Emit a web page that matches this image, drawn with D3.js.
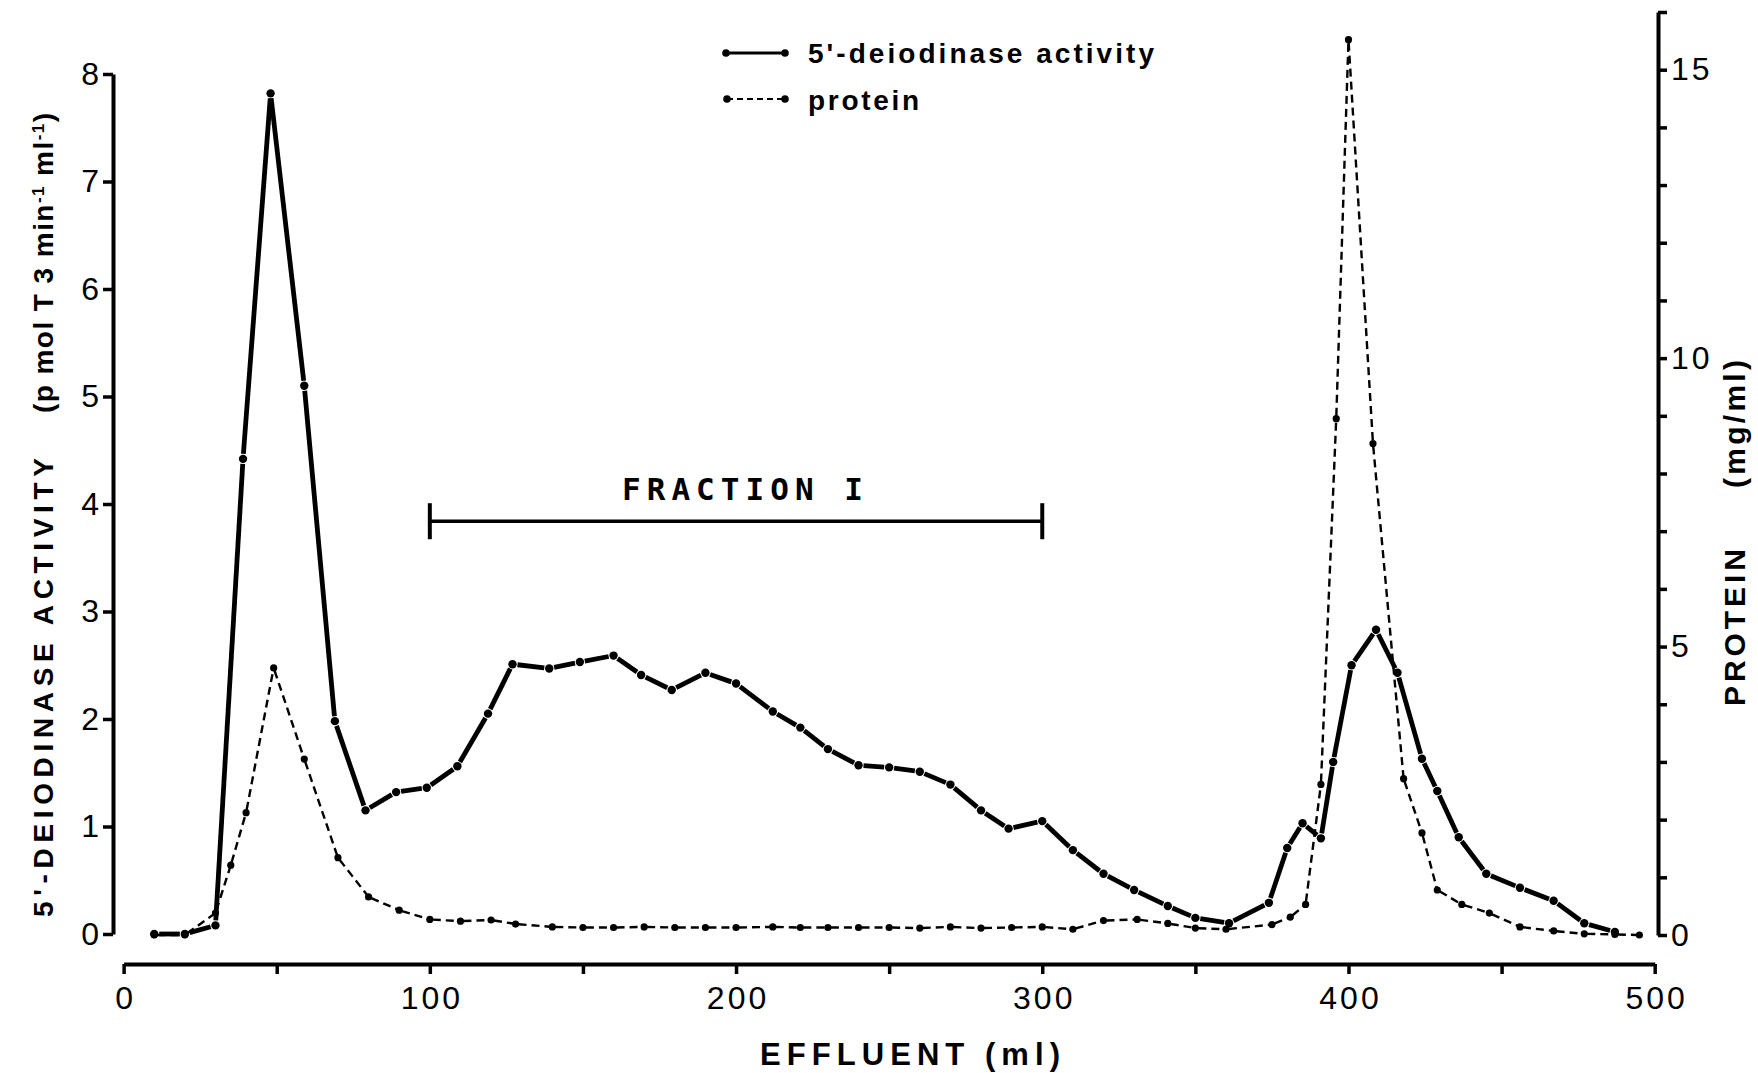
<!DOCTYPE html>
<html>
<head>
<meta charset="utf-8">
<script src="https://cdn.jsdelivr.net/npm/d3@7"></script>
<style>
  body { margin: 0; background: #fff; }
  svg { display: block; }
  .tick text { font-family: "Liberation Sans", Arial, sans-serif; font-size: 32px; letter-spacing: 3px; fill: #000; }
  .axisText { font-family: "Liberation Sans", Arial, sans-serif; fill: #000; }
</style>
</head>
<body>
<div class="chart"></div>
<script>
// effluent volume (ml) where each fraction was measured
var activityMl = [10, 20, 30, 39, 48, 59, 69, 79, 89, 99, 109, 119, 127, 139, 149, 160, 169, 179, 190, 200,
	212, 221, 230, 240, 250, 260, 270, 280, 289, 300, 310, 320, 330, 341, 350, 361, 374, 380, 385, 391,
	395, 401, 409, 416, 424, 429, 436, 445, 456, 467, 477, 487];
// 5'-deiodinase activity (pmol T3 / min / ml)
var activity = [0, 0, 0.08, 4.42, 7.82, 5.10, 1.98, 1.15, 1.32, 1.36, 1.56, 2.05, 2.51, 2.47, 2.53, 2.59, 2.41, 2.27, 2.43, 2.33,
	2.07, 1.92, 1.72, 1.57, 1.55, 1.51, 1.39, 1.15, 0.98, 1.05, 0.78, 0.56, 0.41, 0.26, 0.15, 0.10, 0.29, 0.80, 1.03, 0.89,
	1.60, 2.50, 2.83, 2.43, 1.63, 1.33, 0.90, 0.56, 0.43, 0.31, 0.10, 0.02];

var proteinMl = [10, 20, 30, 35, 40, 49, 59, 70, 80, 90, 100, 110, 120, 128, 140, 150, 160, 170, 180, 190,
	200, 212, 221, 230, 240, 250, 260, 270, 280, 290, 300, 310, 320, 331, 341, 350, 360, 375, 381, 386,
	391, 396, 400, 408, 418, 424, 429, 437, 446, 456, 467, 477, 487, 495];
// protein (mg/ml)
var protein = [0, 0, 0.38, 1.21, 2.12, 4.63, 3.05, 1.34, 0.66, 0.43, 0.27, 0.24, 0.26, 0.19, 0.14, 0.13, 0.13, 0.14, 0.13, 0.13,
	0.13, 0.14, 0.13, 0.13, 0.13, 0.13, 0.12, 0.14, 0.12, 0.13, 0.14, 0.10, 0.25, 0.27, 0.20, 0.12, 0.10, 0.18, 0.31, 0.53,
	2.61, 8.95, 15.52, 8.52, 2.71, 1.77, 0.78, 0.53, 0.38, 0.14, 0.07, 0.02, 0.01, 0];

var leftTicks = [0, 1, 2, 3, 4, 5, 6, 7, 8];
var rightTicks = d3.range(0, 17);
var rightLabels = [0, 5, 10, 15];
var xTicks = d3.range(0, 501, 50);
var xLabels = [0, 100, 200, 300, 400, 500];
var fraction = [100, 300];

var svgWidth = 1758;
var svgHeight = 1073;

var svg = d3.select(".chart")
	.append("svg")
	.attr("width", svgWidth)
	.attr("height", svgHeight);

var xScale = d3.scaleLinear().domain([0, 500]).range([123.6, 1654.7]);
var yLeft = d3.scaleLinear().domain([0, 8]).range([934, 74]);
var yRight = d3.scaleLinear().domain([0, 16]).range([935, 12]);

// axes
var leftAxis = d3.axisLeft(yLeft).tickValues(leftTicks).tickSize(10).tickSizeOuter(0).tickPadding(1);
var rightAxis = d3.axisRight(yRight).tickValues(rightTicks).tickSize(9).tickSizeOuter(0).tickPadding(4)
	.tickFormat(function(d){ return rightLabels.indexOf(d) >= 0 ? d : ""; });
var bottomAxis = d3.axisBottom(xScale).tickValues(xTicks).tickSize(10).tickSizeOuter(0).tickPadding(12)
	.tickFormat(function(d){ return xLabels.indexOf(d) >= 0 ? d : ""; });

function styleAxis(g) {
	g.select(".domain").attr("stroke", "#000").attr("stroke-width", 4);
	g.selectAll(".tick line").attr("stroke", "#000").attr("stroke-width", 3.5);
}

svg.append("g").attr("transform", "translate(113,0)").call(leftAxis).call(styleAxis);
svg.append("g").attr("transform", "translate(1658,0)").call(rightAxis).call(styleAxis);
var xAxisG = svg.append("g").attr("transform", "translate(0,964)").call(bottomAxis).call(styleAxis);
// letter-spacing leaves a trailing gap, nudge the centred labels back
xAxisG.selectAll(".tick text").attr("dx", 1.5);

// line segments broken a little around every dot, like the pen drawing
function segments(xs, ys, yScale, gap) {
	var out = [];
	for (var i = 0; i < xs.length - 1; i++) {
		var x1 = xScale(xs[i]), y1 = yScale(ys[i]);
		var x2 = xScale(xs[i + 1]), y2 = yScale(ys[i + 1]);
		var len = Math.sqrt((x2 - x1) * (x2 - x1) + (y2 - y1) * (y2 - y1));
		if (len < gap * 2 + 1) continue;
		var ux = (x2 - x1) / len, uy = (y2 - y1) / len;
		out.push({ x1: x1 + ux * gap, y1: y1 + uy * gap, x2: x2 - ux * gap, y2: y2 - uy * gap });
	}
	return out;
}

var chart = svg.append("g");

// protein (dashed, right axis)
chart.selectAll(".protLine")
	.data(segments(proteinMl, protein, yRight, 3))
	.enter().append("line")
		.attr("class", "protLine")
		.attr("x1", function(d){ return d.x1; })
		.attr("y1", function(d){ return d.y1; })
		.attr("x2", function(d){ return d.x2; })
		.attr("y2", function(d){ return d.y2; })
		.attr("stroke", "#000")
		.attr("stroke-width", 2.4)
		.attr("stroke-dasharray", "8,5");

chart.selectAll(".protDot")
	.data(proteinMl)
	.enter().append("circle")
		.attr("class", "protDot")
		.attr("cx", function(d){ return xScale(d); })
		.attr("cy", function(d, i){ return yRight(protein[i]); })
		.attr("r", 3.6)
		.attr("fill", "#000");

// activity (solid, left axis)
chart.selectAll(".actLine")
	.data(segments(activityMl, activity, yLeft, 5))
	.enter().append("line")
		.attr("class", "actLine")
		.attr("x1", function(d){ return d.x1; })
		.attr("y1", function(d){ return d.y1; })
		.attr("x2", function(d){ return d.x2; })
		.attr("y2", function(d){ return d.y2; })
		.attr("stroke", "#000")
		.attr("stroke-width", 4.8);

chart.selectAll(".actDot")
	.data(activityMl)
	.enter().append("circle")
		.attr("class", "actDot")
		.attr("cx", function(d){ return xScale(d); })
		.attr("cy", function(d, i){ return yLeft(activity[i]); })
		.attr("r", 4.2)
		.attr("fill", "#000");

// fraction I bar
var barY = yLeft(3.84);
chart.append("line")
	.attr("x1", xScale(fraction[0])).attr("x2", xScale(fraction[1]))
	.attr("y1", barY).attr("y2", barY)
	.attr("stroke", "#000").attr("stroke-width", 3.5);
fraction.forEach(function(f){
	chart.append("line")
		.attr("x1", xScale(f)).attr("x2", xScale(f))
		.attr("y1", barY - 18).attr("y2", barY + 18)
		.attr("stroke", "#000").attr("stroke-width", 4);
});
chart.append("text")
	.attr("x", 622).attr("y", 500)
	.attr("textLength", 241).attr("lengthAdjust", "spacing")
	.style("font-family", "'DejaVu Sans Mono', monospace")
	.style("font-size", "31px").style("font-weight", "bold")
	.text("FRACTION I");

// legend
var legend = svg.append("g");
legend.append("line").attr("x1", 726).attr("x2", 785).attr("y1", 53).attr("y2", 53)
	.attr("stroke", "#000").attr("stroke-width", 3);
legend.append("line").attr("x1", 727).attr("x2", 785).attr("y1", 99).attr("y2", 99)
	.attr("stroke", "#000").attr("stroke-width", 2).attr("stroke-dasharray", "6,4");
[[726, 53], [785, 53], [727, 99], [785, 99]].forEach(function(p){
	legend.append("circle").attr("cx", p[0]).attr("cy", p[1]).attr("r", 3.8).attr("fill", "#000");
});
legend.append("text").attr("class", "axisText")
	.attr("x", 808).attr("y", 63)
	.attr("textLength", 346).attr("lengthAdjust", "spacing")
	.style("font-size", "28px").style("font-weight", "bold")
	.text("5'-deiodinase activity");
legend.append("text").attr("class", "axisText")
	.attr("x", 808).attr("y", 110)
	.attr("textLength", 111).attr("lengthAdjust", "spacing")
	.style("font-size", "28px").style("font-weight", "bold")
	.text("protein");

// axis titles
svg.append("text").attr("class", "axisText")
	.attr("transform", "translate(53,917) rotate(-90)")
	.attr("textLength", 459).attr("lengthAdjust", "spacing")
	.style("font-size", "28px").style("font-weight", "bold")
	.text("5'-DEIODINASE ACTIVITY");

var unit = svg.append("text").attr("class", "axisText")
	.attr("transform", "translate(53,413) rotate(-90)")
	.attr("textLength", 300).attr("lengthAdjust", "spacing")
	.style("font-size", "28px").style("font-weight", "bold");
unit.append("tspan").text("(p mol T 3 min");
unit.append("tspan").attr("baseline-shift", "super").style("font-size", "17px").text("-1");
unit.append("tspan").text(" ml");
unit.append("tspan").attr("baseline-shift", "super").style("font-size", "17px").text("-1");
unit.append("tspan").text(")");

svg.append("text").attr("class", "axisText")
	.attr("transform", "translate(1745,706) rotate(-90)")
	.attr("textLength", 157).attr("lengthAdjust", "spacing")
	.style("font-size", "30px").style("font-weight", "bold")
	.text("PROTEIN");
svg.append("text").attr("class", "axisText")
	.attr("transform", "translate(1745,488) rotate(-90)")
	.attr("textLength", 128).attr("lengthAdjust", "spacing")
	.style("font-size", "30px").style("font-weight", "bold")
	.text("(mg/ml)");

svg.append("text").attr("class", "axisText")
	.attr("x", 760).attr("y", 1065)
	.attr("textLength", 300).attr("lengthAdjust", "spacing")
	.style("font-size", "31px").style("font-weight", "bold")
	.text("EFFLUENT  (ml)");
</script>
</body>
</html>
